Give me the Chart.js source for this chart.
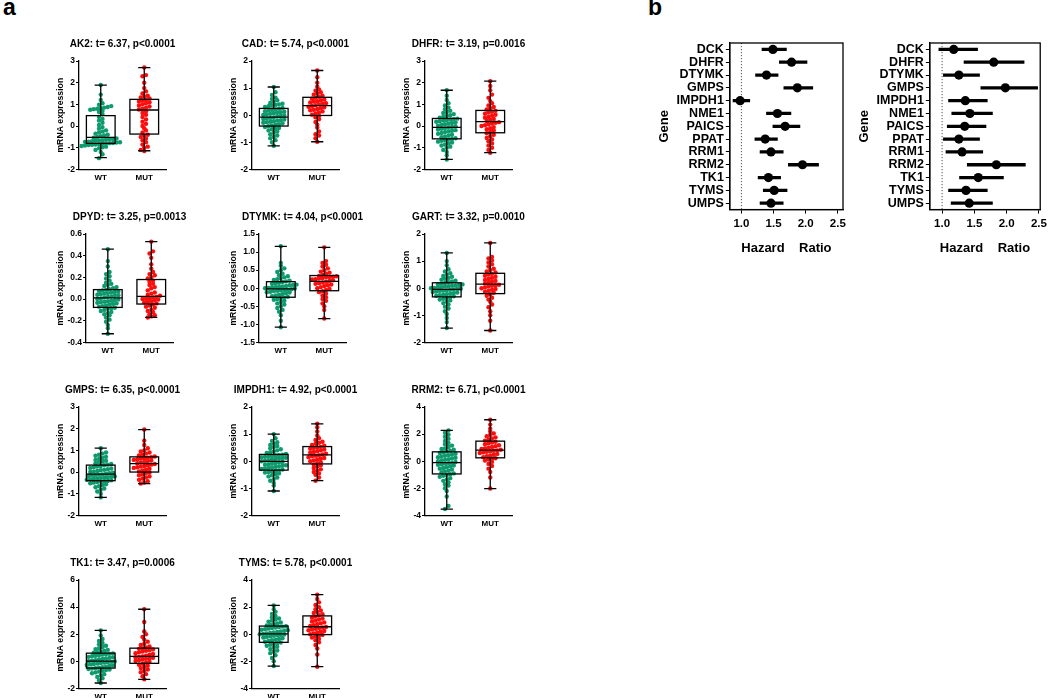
<!DOCTYPE html>
<html>
<head>
<meta charset="utf-8">
<script src="https://cdn.jsdelivr.net/npm/chart.js@4.4.1/dist/chart.umd.min.js"></script>
<style>
  body { margin: 0; background: #fff; width: 1050px; height: 698px; overflow: hidden; position: relative; font-family: "Liberation Sans", Arial, sans-serif; }
  canvas { position: absolute; }
  .tag { position: absolute; font-weight: bold; font-size: 23px; line-height: 1; }
</style>
</head>
<body>
<div class="tag" style="left:3px;top:-4px">a</div>
<div class="tag" style="left:648px;top:-4px">b</div>
<script>
// ---- panel a: box + swarm plots ----
const boxGenes = ['AK2', 'CAD', 'DHFR', 'DPYD', 'DTYMK', 'GART', 'GMPS', 'IMPDH1', 'RRM2', 'TK1', 'TYMS'];
const tValues = ['6.37', '5.74', '3.19', '3.25', '4.04', '3.32', '6.35', '4.92', '6.71', '3.47', '5.78'];
const pValues = ['p<0.0001', 'p<0.0001', 'p=0.0016', 'p=0.0013', 'p<0.0001', 'p=0.0010', 'p<0.0001', 'p<0.0001', 'p<0.0001', 'p=0.0006', 'p<0.0001'];
const groups = ['WT', 'MUT'];
const yMins = [-2, -2, -2, -0.4, -1.5, -2, -2, -2, -4, -2, -4];
const yMaxs = [3, 2, 3, 0.6, 1.5, 2, 3, 2, 4, 6, 4];
const ySteps = [1, 1, 1, 0.2, 0.5, 1, 1, 1, 2, 2, 2];

// min, q1, median, q3, max
const wtBox = [
  [-1.46, -0.80, -0.52, 0.48, 1.89], [-1.13, -0.40, -0.07, 0.25, 1.04], [-1.54, -0.59, -0.06, 0.35, 1.65],
  [-0.32, -0.077, 0.01, 0.087, 0.46], [-1.08, -0.25, -0.02, 0.18, 1.16], [-1.47, -0.32, -0.04, 0.20, 1.30],
  [-1.17, -0.40, -0.10, 0.32, 1.10], [-1.10, -0.33, -0.01, 0.25, 1.00], [-3.53, -0.94, -0.10, 0.69, 2.27],
  [-1.60, -0.50, 0.02, 0.60, 2.28], [-2.35, -0.60, 0.02, 0.60, 2.12]
];
const mutBox = [
  [-1.14, -0.37, 0.74, 1.23, 2.69], [-0.98, -0.01, 0.35, 0.66, 1.65], [-1.23, -0.31, 0.20, 0.72, 2.07],
  [-0.17, -0.046, 0.025, 0.18, 0.53], [-0.84, -0.07, 0.19, 0.35, 1.13], [-1.56, -0.20, 0.15, 0.55, 1.67],
  [-0.53, 0.00, 0.39, 0.70, 1.96], [-0.72, -0.10, 0.23, 0.54, 1.38], [-2.02, 0.25, 0.81, 1.48, 3.06],
  [-1.33, -0.15, 0.37, 0.97, 3.84], [-2.40, -0.03, 0.55, 1.35, 2.92]
];

const wtPoints = [
  // AK2
  [-1.48,-1.3,-1.2,-1.1,-1.02,-0.98,-0.95,-0.92,-0.9,-0.88,-0.86,-0.85,-0.83,-0.82,-0.8,
   -0.79,-0.78,-0.76,-0.75,-0.73,-0.72,-0.7,-0.68,-0.66,-0.65,-0.63,-0.61,-0.6,-0.57,-0.54,
   -0.5,-0.47,-0.43,-0.4,-0.35,-0.3,-0.25,-0.2,-0.12,-0.05,0.05,0.15,0.25,0.33,0.42,
   0.55,0.65,0.7,0.75,0.78,0.8,0.82,0.85,0.88,0.92,0.98,1.05,1.2,1.45,1.89],
  // CAD
  [-1.13,-1.0,-0.92,-0.85,-0.8,-0.75,-0.7,-0.65,-0.6,-0.56,-0.52,-0.5,-0.47,-0.44,-0.41,
   -0.38,-0.35,-0.33,-0.3,-0.28,-0.26,-0.24,-0.22,-0.2,-0.18,-0.16,-0.14,-0.12,-0.1,-0.08,
   -0.05,-0.03,-0.01,0.01,0.03,0.05,0.07,0.09,0.11,0.13,0.15,0.17,0.19,0.21,0.24,
   0.27,0.3,0.33,0.36,0.38,0.4,0.42,0.45,0.5,0.55,0.6,0.65,0.75,0.85,1.04],
  // DHFR
  [-1.54,-1.35,-1.2,-1.1,-1.0,-0.95,-0.9,-0.85,-0.8,-0.76,-0.72,-0.68,-0.65,-0.62,-0.6,
   -0.56,-0.52,-0.48,-0.44,-0.4,-0.36,-0.32,-0.28,-0.25,-0.22,-0.19,-0.16,-0.13,-0.1,-0.07,
   -0.04,-0.01,0.02,0.05,0.08,0.11,0.14,0.17,0.2,0.22,0.25,0.28,0.3,0.32,0.34,
   0.38,0.42,0.46,0.5,0.55,0.6,0.65,0.7,0.78,0.85,0.95,1.05,1.2,1.4,1.65],
  // DPYD
  [-0.32,-0.27,-0.24,-0.21,-0.19,-0.17,-0.15,-0.14,-0.13,-0.12,-0.11,-0.1,-0.09,-0.085,-0.08,
   -0.07,-0.065,-0.06,-0.05,-0.045,-0.04,-0.035,-0.03,-0.025,-0.02,-0.015,-0.01,-0.005,0.0,0.005,
   0.015,0.02,0.025,0.03,0.035,0.04,0.045,0.05,0.055,0.06,0.065,0.07,0.075,0.08,0.085,
   0.09,0.1,0.11,0.12,0.13,0.14,0.15,0.17,0.19,0.21,0.23,0.25,0.3,0.35,0.46],
  // DTYMK
  [-1.08,-0.9,-0.75,-0.65,-0.6,-0.55,-0.5,-0.45,-0.42,-0.38,-0.35,-0.32,-0.3,-0.28,-0.26,
   -0.24,-0.22,-0.2,-0.18,-0.16,-0.14,-0.12,-0.11,-0.1,-0.08,-0.07,-0.06,-0.05,-0.04,-0.03,
   -0.01,0.0,0.01,0.02,0.03,0.04,0.05,0.06,0.08,0.09,0.1,0.12,0.13,0.15,0.17,
   0.19,0.21,0.23,0.25,0.28,0.3,0.33,0.36,0.4,0.45,0.5,0.55,0.62,0.7,1.16],
  // GART
  [-1.47,-1.25,-1.1,-0.95,-0.85,-0.75,-0.68,-0.6,-0.55,-0.5,-0.45,-0.42,-0.39,-0.36,-0.33,
   -0.3,-0.28,-0.26,-0.24,-0.22,-0.2,-0.18,-0.16,-0.14,-0.12,-0.1,-0.09,-0.08,-0.06,-0.05,
   -0.03,-0.02,0.0,0.01,0.03,0.04,0.06,0.07,0.09,0.1,0.12,0.14,0.15,0.17,0.19,
   0.22,0.25,0.28,0.31,0.35,0.38,0.42,0.45,0.5,0.55,0.62,0.7,0.85,1.0,1.3],
  // GMPS
  [-1.17,-1.0,-0.9,-0.82,-0.76,-0.7,-0.65,-0.6,-0.56,-0.52,-0.49,-0.46,-0.44,-0.42,-0.41,
   -0.38,-0.36,-0.34,-0.32,-0.3,-0.28,-0.26,-0.24,-0.22,-0.2,-0.18,-0.16,-0.14,-0.12,-0.11,
   -0.08,-0.05,-0.03,0.0,0.02,0.05,0.08,0.1,0.13,0.16,0.19,0.22,0.25,0.28,0.31,
   0.34,0.37,0.4,0.44,0.48,0.52,0.56,0.6,0.65,0.7,0.75,0.8,0.85,0.9,1.1],
  // IMPDH1
  [-1.1,-0.9,-0.8,-0.72,-0.66,-0.6,-0.56,-0.52,-0.48,-0.45,-0.42,-0.4,-0.38,-0.36,-0.34,
   -0.31,-0.29,-0.27,-0.25,-0.23,-0.21,-0.19,-0.17,-0.15,-0.13,-0.11,-0.09,-0.07,-0.05,-0.03,
   0.0,0.02,0.04,0.06,0.08,0.1,0.12,0.13,0.15,0.16,0.18,0.19,0.21,0.22,0.24,
   0.27,0.3,0.33,0.36,0.4,0.44,0.48,0.52,0.56,0.6,0.65,0.7,0.75,0.85,1.0],
  // RRM2
  [-3.53,-3.3,-2.6,-2.2,-2.0,-1.8,-1.7,-1.55,-1.45,-1.35,-1.25,-1.15,-1.08,-1.02,-0.96,
   -0.9,-0.82,-0.75,-0.7,-0.62,-0.55,-0.5,-0.44,-0.38,-0.32,-0.27,-0.22,-0.18,-0.14,-0.12,
   -0.06,0.0,0.05,0.1,0.15,0.2,0.25,0.3,0.35,0.4,0.45,0.5,0.55,0.6,0.66,
   0.72,0.78,0.85,0.9,0.95,1.05,1.15,1.25,1.35,1.5,1.65,1.8,1.95,2.1,2.27],
  // TK1
  [-1.6,-1.4,-1.25,-1.15,-1.05,-0.95,-0.88,-0.82,-0.76,-0.7,-0.65,-0.6,-0.57,-0.54,-0.51,
   -0.47,-0.43,-0.39,-0.35,-0.31,-0.27,-0.23,-0.2,-0.17,-0.13,-0.1,-0.07,-0.04,-0.01,0.01,
   0.05,0.09,0.13,0.17,0.21,0.25,0.29,0.33,0.37,0.41,0.45,0.49,0.52,0.55,0.58,
   0.63,0.68,0.73,0.78,0.84,0.9,0.97,1.05,1.15,1.25,1.35,1.5,1.65,1.9,2.28],
  // TYMS
  [-2.35,-2.0,-1.75,-1.55,-1.4,-1.3,-1.2,-1.1,-1.0,-0.92,-0.85,-0.78,-0.72,-0.67,-0.62,
   -0.56,-0.5,-0.45,-0.4,-0.35,-0.3,-0.25,-0.2,-0.16,-0.12,-0.08,-0.05,-0.02,0.0,0.01,
   0.05,0.09,0.13,0.17,0.21,0.25,0.29,0.33,0.37,0.41,0.45,0.49,0.53,0.56,0.59,
   0.64,0.69,0.74,0.8,0.86,0.93,1.0,1.08,1.16,1.25,1.35,1.5,1.65,1.85,2.12]
];

const mutPoints = [
  // AK2
  [-1.15,-1.1,-1.0,-0.95,-0.85,-0.75,-0.65,-0.58,-0.5,-0.45,-0.4,
   -0.3,-0.2,-0.1,0.0,0.1,0.2,0.3,0.42,0.52,0.6,0.68,
   0.76,0.8,0.85,0.9,0.95,1.0,1.05,1.1,1.13,1.17,1.2,
   1.27,1.32,1.36,1.4,1.5,1.6,1.75,2.0,2.3,2.35,2.7],
  // CAD
  [-0.98,-0.85,-0.75,-0.7,-0.6,-0.45,-0.35,-0.25,-0.15,-0.08,-0.03,
   0.02,0.06,0.1,0.14,0.18,0.2,0.23,0.26,0.29,0.31,0.34,
   0.37,0.4,0.42,0.44,0.47,0.5,0.52,0.55,0.58,0.61,0.64,
   0.68,0.72,0.76,0.8,0.85,0.9,0.95,1.05,1.2,1.4,1.65],
  // DHFR
  [-1.23,-1.1,-1.0,-0.9,-0.8,-0.7,-0.62,-0.55,-0.47,-0.4,-0.33,
   -0.27,-0.2,-0.15,-0.1,-0.05,0.0,0.04,0.08,0.12,0.15,0.18,
   0.23,0.28,0.33,0.38,0.42,0.47,0.52,0.57,0.62,0.66,0.7,
   0.76,0.82,0.88,0.95,1.05,1.15,1.3,1.45,1.65,1.85,2.07],
  // DPYD
  [-0.17,-0.16,-0.15,-0.14,-0.12,-0.11,-0.1,-0.08,-0.07,-0.06,-0.05,
   -0.04,-0.03,-0.025,-0.02,-0.01,-0.005,0.0,0.005,0.01,0.015,0.02,
   0.03,0.04,0.05,0.06,0.08,0.1,0.11,0.13,0.14,0.16,0.17,
   0.19,0.2,0.22,0.23,0.25,0.28,0.32,0.38,0.42,0.44,0.53],
  // DTYMK
  [-0.84,-0.6,-0.5,-0.42,-0.35,-0.3,-0.25,-0.2,-0.15,-0.11,-0.08,
   -0.05,-0.02,0.0,0.03,0.06,0.08,0.1,0.12,0.14,0.16,0.18,
   0.2,0.22,0.24,0.25,0.27,0.28,0.3,0.31,0.32,0.33,0.34,
   0.37,0.4,0.43,0.46,0.5,0.55,0.6,0.65,0.7,0.75,1.13],
  // GART
  [-1.56,-1.2,-1.0,-0.85,-0.7,-0.6,-0.5,-0.42,-0.35,-0.28,-0.22,
   -0.17,-0.13,-0.1,-0.06,-0.03,0.0,0.03,0.06,0.09,0.11,0.13,
   0.17,0.2,0.24,0.27,0.3,0.34,0.38,0.42,0.46,0.5,0.53,
   0.58,0.62,0.67,0.72,0.8,0.88,0.95,1.02,1.1,1.15,1.67],
  // GMPS
  [-0.53,-0.48,-0.42,-0.36,-0.3,-0.25,-0.2,-0.15,-0.1,-0.05,-0.02,
   0.03,0.07,0.11,0.15,0.19,0.22,0.25,0.28,0.31,0.34,0.37,
   0.41,0.44,0.47,0.5,0.53,0.56,0.59,0.62,0.64,0.66,0.68,
   0.72,0.76,0.8,0.85,0.9,0.95,1.0,1.1,1.25,1.45,1.96],
  // IMPDH1
  [-0.72,-0.6,-0.5,-0.45,-0.4,-0.35,-0.3,-0.25,-0.2,-0.15,-0.12,
   -0.07,-0.04,0.0,0.03,0.06,0.09,0.12,0.15,0.18,0.2,0.22,
   0.25,0.28,0.31,0.34,0.37,0.4,0.43,0.46,0.49,0.51,0.53,
   0.57,0.6,0.64,0.68,0.72,0.78,0.85,0.95,1.1,1.25,1.38],
  // RRM2
  [-2.02,-1.2,-0.8,-0.55,-0.35,-0.2,-0.05,0.05,0.12,0.18,0.22,
   0.3,0.36,0.42,0.48,0.54,0.6,0.65,0.7,0.74,0.77,0.8,
   0.85,0.9,0.95,1.0,1.05,1.1,1.18,1.25,1.32,1.38,1.44,
   1.52,1.6,1.68,1.76,1.85,1.95,2.05,2.2,2.4,2.7,3.06],
  // TK1
  [-1.33,-1.1,-0.95,-0.8,-0.7,-0.6,-0.5,-0.42,-0.33,-0.25,-0.18,
   -0.1,-0.04,0.02,0.08,0.13,0.18,0.22,0.26,0.3,0.33,0.36,
   0.42,0.48,0.54,0.6,0.66,0.72,0.78,0.83,0.88,0.92,0.95,
   1.02,1.1,1.2,1.3,1.45,1.6,1.8,2.0,2.2,2.9,3.84],
  // TYMS
  [-2.4,-1.5,-1.05,-0.8,-0.6,-0.45,-0.35,-0.25,-0.15,-0.1,-0.05,
   0.0,0.06,0.12,0.18,0.24,0.3,0.35,0.4,0.45,0.49,0.53,
   0.6,0.67,0.74,0.8,0.87,0.94,1.0,1.08,1.15,1.22,1.3,
   1.4,1.48,1.56,1.65,1.75,1.85,2.0,2.15,2.35,2.6,2.92]
];

// ---- panel b: forest plots ----
const forestGenes = ['DCK', 'DHFR', 'DTYMK', 'GMPS', 'IMPDH1', 'NME1', 'PAICS', 'PPAT', 'RRM1', 'RRM2', 'TK1', 'TYMS', 'UMPS'];
const leftHR = [1.49, 1.78, 1.39, 1.87, 0.98, 1.56, 1.68, 1.37, 1.46, 1.95, 1.42, 1.51, 1.46];
const leftLo = [1.32, 1.59, 1.22, 1.66, 0.87, 1.39, 1.49, 1.21, 1.29, 1.73, 1.26, 1.34, 1.29];
const leftHi = [1.70, 2.02, 1.57, 2.11, 1.13, 1.77, 1.91, 1.56, 1.65, 2.20, 1.61, 1.71, 1.65];
const rightHR = [1.18, 1.80, 1.26, 1.98, 1.36, 1.43, 1.35, 1.26, 1.31, 1.84, 1.56, 1.37, 1.42];
const rightLo = [0.95, 1.34, 1.02, 1.60, 1.10, 1.15, 1.08, 1.02, 1.06, 1.39, 1.27, 1.10, 1.14];
const rightHi = [1.55, 2.27, 1.58, 2.48, 1.70, 1.78, 1.68, 1.58, 1.63, 2.29, 1.95, 1.70, 1.78];
const hrTicks = [1.0, 1.5, 2.0, 2.5];

Chart.defaults.font.family = '"Liberation Sans", Arial, sans-serif';
Chart.defaults.color = '#000';

const GREEN = '#0f9a6e';
const RED = '#ff0d0d';
const groupPos = [0.5, 1.5];
const PLOT_W = 87;
const PANEL_H = 155;

// spread points sideways inside value bins (beeswarm-like)
function swarm(values, center, yRange) {
    const binH = yRange * 4 / 108;
    const dx = 2 * 3.5 / PLOT_W;
    const bins = {};
    values.forEach(v => {
        const b = Math.floor(v / binH);
        (bins[b] = bins[b] || []).push(v);
    });
    const pts = [];
    Object.values(bins).forEach(list => {
        list.forEach((v, k) => pts.push({ x: center + (k - (list.length - 1) / 2) * dx, y: v }));
    });
    return pts;
}

const boxPlugin = {
    id: 'boxes',
    afterDatasetsDraw(chart, args, opts) {
        const { ctx, chartArea: a, scales: { x, y } } = chart;
        ctx.save();
        ctx.strokeStyle = '#000';
        ctx.lineWidth = 1.3;
        opts.stats.forEach((s, k) => {
            const cx = x.getPixelForValue(groupPos[k]);
            const half = x.getPixelForValue(groupPos[k] + 0.33) - cx;
            const cap = x.getPixelForValue(groupPos[k] + 0.14) - cx;
            const [mn, q1, md, q3, mx] = s.map(v => y.getPixelForValue(v));
            ctx.strokeRect(cx - half, q3, 2 * half, q1 - q3);
            ctx.beginPath();
            ctx.moveTo(cx - half, md); ctx.lineTo(cx + half, md);
            ctx.moveTo(cx, q3); ctx.lineTo(cx, mx);
            ctx.moveTo(cx, q1); ctx.lineTo(cx, mn);
            ctx.moveTo(cx - cap, mx); ctx.lineTo(cx + cap, mx);
            ctx.moveTo(cx - cap, mn); ctx.lineTo(cx + cap, mn);
            ctx.stroke();
        });
        // panel title, centred over the plot area
        ctx.fillStyle = '#000';
        ctx.font = 'bold 10px "Liberation Sans", Arial, sans-serif';
        ctx.textAlign = 'center';
        ctx.textBaseline = 'middle';
        ctx.fillText(opts.title, (a.left + a.right) / 2, a.top - 17);
        ctx.restore();
    }
};

function makeBoxChart(i) {
    const canvas = document.createElement('canvas');
    canvas.width = 140;
    canvas.height = PANEL_H;
    canvas.style.left = (50 + (i % 3) * 173) + 'px';
    canvas.style.top = (36 + Math.floor(i / 3) * 173) + 'px';
    document.body.appendChild(canvas);

    const yRange = yMaxs[i] - yMins[i];
    const chart = new Chart(canvas, {
        type: 'scatter',
        data: {
            datasets: [
                { data: swarm(wtPoints[i], groupPos[0], yRange), backgroundColor: GREEN, pointRadius: 2.2, borderWidth: 0 },
                { data: swarm(mutPoints[i], groupPos[1], yRange), backgroundColor: RED, pointRadius: 2.2, borderWidth: 0 }
            ]
        },
        options: {
            responsive: false,
            maintainAspectRatio: false,
            animation: false,
            events: [],
            layout: { padding: { left: 5, right: 26, top: 25, bottom: 4 } },
            plugins: {
                legend: { display: false },
                tooltip: { enabled: false },
                boxes: {
                    stats: [wtBox[i], mutBox[i]],
                    title: boxGenes[i] + ': t= ' + tValues[i] + ', ' + pValues[i]
                }
            },
            scales: {
                x: {
                    type: 'linear', min: 0, max: 2,
                    afterBuildTicks: s => { s.ticks = groupPos.map(v => ({ value: v })); },
                    ticks: { callback: (v, idx) => groups[idx], font: { size: 8, weight: 'bold' }, padding: 4 },
                    grid: { display: false, drawTicks: false },
                    border: { color: '#000', width: 1.3 }
                },
                y: {
                    min: yMins[i], max: yMaxs[i],
                    ticks: {
                        stepSize: ySteps[i],
                        callback: v => ySteps[i] < 1 ? v.toFixed(1) : v.toFixed(0),
                        font: { size: 8.5, weight: 'bold' },
                        padding: 1
                    },
                    grid: { drawOnChartArea: false, color: '#000', tickLength: 3 },
                    border: { color: '#000', width: 1.3 },
                    title: { display: true, text: 'mRNA expression', font: { size: 8.7, weight: 'bold' }, padding: { top: 0, bottom: 1 } }
                }
            }
        },
        plugins: [boxPlugin]
    });
    // keep the plot area the same width whatever the tick label width
    const w = chart.chartArea.right - chart.chartArea.left;
    if (Math.abs(w - PLOT_W) > 0.5) chart.resize(Math.round(canvas.width + (PLOT_W - w)), PANEL_H);
}

const framePlugin = {
    id: 'frame',
    beforeDatasetsDraw(chart) {
        const { ctx, chartArea: a, scales: { x } } = chart;
        const px = x.getPixelForValue(1);
        ctx.save();
        ctx.strokeStyle = '#555';
        ctx.lineWidth = 1;
        ctx.setLineDash([1.2, 1.8]);
        ctx.beginPath();
        ctx.moveTo(px, a.top);
        ctx.lineTo(px, a.bottom);
        ctx.stroke();
        ctx.restore();
    },
    afterDraw(chart) {
        const { ctx, chartArea: a } = chart;
        ctx.save();
        ctx.strokeStyle = '#000';
        ctx.lineWidth = 1.3;
        ctx.strokeRect(a.left, a.top, a.right - a.left, a.bottom - a.top);
        ctx.restore();
    }
};

function makeForest(left, hr, lo, hi, xMin, xMax) {
    const canvas = document.createElement('canvas');
    canvas.width = 195;
    canvas.height = 225;
    canvas.style.left = left + 'px';
    canvas.style.top = '33px';
    document.body.appendChild(canvas);

    new Chart(canvas, {
        type: 'bar',
        data: {
            labels: forestGenes,
            datasets: [
                { type: 'line', data: hr, showLine: false, indexAxis: 'y', pointRadius: 4.6, pointBackgroundColor: '#000', pointBorderWidth: 0, order: 0 },
                { type: 'bar', data: lo.map((v, k) => [v, hi[k]]), indexAxis: 'y', backgroundColor: '#000', barThickness: 2.6, order: 1 }
            ]
        },
        options: {
            indexAxis: 'y',
            responsive: false,
            maintainAspectRatio: false,
            animation: false,
            events: [],
            layout: { padding: { left: 2, right: 7, top: 10, bottom: 2 } },
            plugins: { legend: { display: false }, tooltip: { enabled: false } },
            scales: {
                x: {
                    type: 'linear', min: xMin, max: xMax,
                    afterBuildTicks: s => { s.ticks = hrTicks.map(v => ({ value: v })); },
                    ticks: { callback: v => v.toFixed(1), font: { size: 11.5, weight: 'bold' }, padding: 3 },
                    grid: { drawOnChartArea: false, color: '#000', tickLength: 4 },
                    border: { color: '#000', width: 1.3 },
                    title: { display: true, text: 'Hazard    Ratio', font: { size: 13, weight: 'bold' }, padding: { top: 7, bottom: 0 } }
                },
                y: {
                    type: 'category',
                    ticks: { font: { size: 12.5, weight: 'bold' }, padding: 2, autoSkip: false },
                    grid: { drawOnChartArea: false, offset: false, color: '#000', tickLength: 4 },
                    border: { color: '#000', width: 1.3 },
                    title: { display: true, text: 'Gene', font: { size: 13, weight: 'bold' }, padding: { top: 0, bottom: 2 } }
                }
            }
        },
        plugins: [framePlugin]
    });
}

try {
    boxGenes.forEach((g, i) => makeBoxChart(i));
    makeForest(655, leftHR, leftLo, leftHi, 0.82, 2.58);
    makeForest(855, rightHR, rightLo, rightHi, 0.81, 2.52);
} catch (e) {
    console.error('Error drawing charts:', e);
}
</script>
</body>
</html>
